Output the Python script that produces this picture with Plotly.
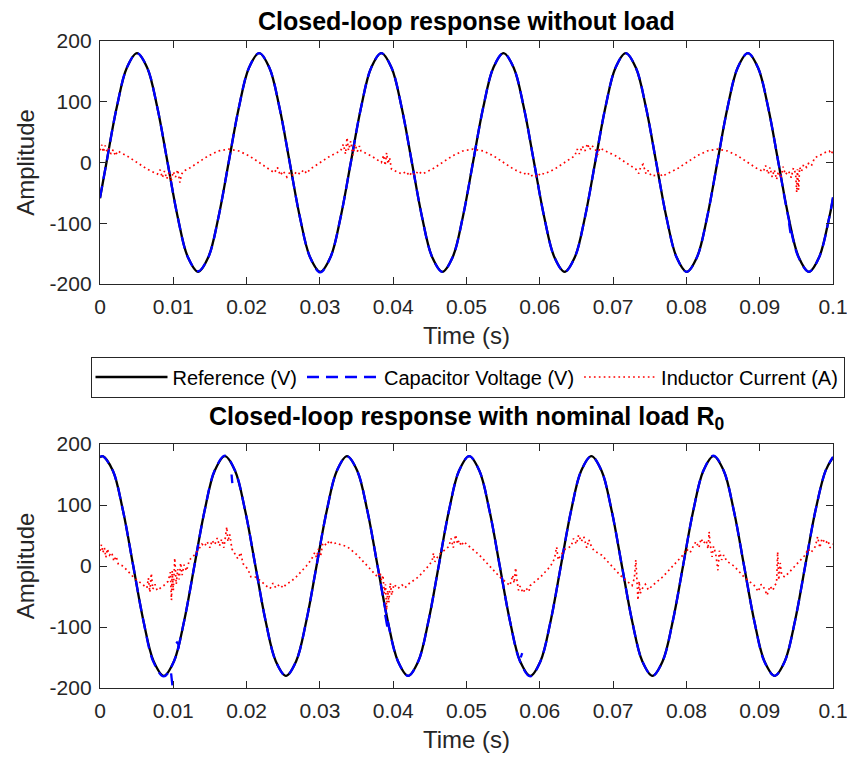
import plotly.graph_objects as go

FONT = "Liberation Sans, Arial, sans-serif"
AX = "#262626"

# ---------------- data (time in ms) ----------------
time_ticks = [0, 0.01, 0.02, 0.03, 0.04, 0.05, 0.06, 0.07, 0.08, 0.09, 0.1]
time_tick_labels = ["0", "0.01", "0.02", "0.03", "0.04", "0.05", "0.06", "0.07", "0.08", "0.09", "0.1"]
amp_ticks = [-200, -100, 0, 100, 200]
amp_tick_labels = ["-200", "-100", "0", "100", "200"]

# Top panel (without load)
top_ref_t = [0, 0.883, 2.272, 3.661,
             5.050, 6.439, 7.828, 9.217, 10.606, 11.994, 13.383, 14.772, 16.161, 17.550, 18.939, 20.328,
             21.717, 23.106, 24.494, 25.883, 27.272, 28.661, 30.050, 31.439, 32.828, 34.217, 35.606, 36.994,
             38.383, 39.772, 41.161, 42.550, 43.939, 45.328, 46.717, 48.106, 49.494, 50.883, 52.272, 53.661,
             55.050, 56.439, 57.828, 59.217, 60.606, 61.994, 63.383, 64.772, 66.161, 67.550, 68.939, 70.328,
             71.717, 73.106, 74.494, 75.883, 77.272, 78.661, 80.050, 81.439, 82.828, 84.217, 85.606, 86.994,
             88.383, 89.772, 91.161, 92.550, 93.939, 95.328, 96.717, 98.106, 99.494, 100]
top_ref_v = [-59, 0, 90, 156,
             180, 156, 90, 0, -90, -156, -180, -156, -90, 0, 90, 156,
             180, 156, 90, 0, -90, -156, -180, -156, -90, 0, 90, 156,
             180, 156, 90, 0, -90, -156, -180, -156, -90, 0, 90, 156,
             180, 156, 90, 0, -90, -156, -180, -156, -90, 0, 90, 156,
             180, 156, 90, 0, -90, -156, -180, -156, -90, 0, 90, 156,
             180, 156, 90, 0, -90, -156, -180, -156, -90, -59]
top_cap_v = [-58, 0, 90, 156,
             180, 156, 90, 0, -90, -156, -179, -156, -90, 0, 90, 156,
             180, 156, 90, 0, -90, -156, -181, -156, -90, 0, 90, 156,
             180, 156, 90, 0, -90, -156, -180, -156, -90, 0, 90, 156,
             180, 156, 90, 0, -90, -156, -180, -156, -90, 0, 90, 156,
             180, 156, 90, 0, -90, -156, -180, -156, -90, 0, 90, 156,
             180, 156, 90, 0, -92, -157, -180, -156, -90, -57]
top_cap_glitch_t = [94.0, 94.2]
top_cap_glitch_v = [-100, -116]
top_cur = [(0, 20), (0.25, 29), (0.45, 17), (0.7, 28), (0.95, 18), (1.2, 23), (1.5, 14), (1.8, 21), (2.1, 11),
           (2.4, 19), (3.661, 11), (5.050, 0), (6.439, -11), (7.828, -19), (8.2, -12), (8.5, -25), (8.8, -14),
           (9.1, -27), (9.4, -17), (9.7, -30), (10.0, -15), (10.3, -24), (10.6, -12), (10.9, -33), (11.1, -20),
           (11.4, -14), (11.994, -11), (13.383, 0), (14.772, 11), (16.161, 19), (17.550, 22), (18.939, 19),
           (20.328, 11), (21.717, 0), (23.106, -11), (23.8, -17), (24.2, -8), (24.6, -21), (25.0, -14),
           (25.5, -24), (25.9, -16), (26.4, -22), (26.8, -15), (27.272, -19), (27.8, -12), (28.2, -18),
           (28.661, -11), (30.050, 0), (31.439, 11), (32.828, 19), (33.2, 30), (33.5, 14), (33.7, 41),
           (33.9, 20), (34.2, 35), (34.5, 12), (34.8, 30), (35.1, 18), (35.4, 27), (35.606, 19), (36.994, 11),
           (38.383, 0), (38.7, 12), (38.9, -5), (39.1, 16), (39.3, -2), (39.5, 8), (39.772, -11), (41.161, -19),
           (41.8, -15), (42.2, -22), (42.55, -16), (43.0, -21), (43.4, -14), (43.939, -19), (45.328, -11),
           (46.717, 0), (48.106, 11), (49.494, 19), (50.883, 22), (52.272, 19), (53.661, 11), (55.050, 0),
           (56.439, -11), (57.828, -19), (58.3, -16), (58.7, -23), (59.217, -20), (59.7, -24), (60.1, -17),
           (60.606, -19), (61.994, -11), (63.383, 0), (64.772, 11), (65.1, 22), (65.4, 14), (65.8, 27),
           (66.161, 19), (66.5, 31), (66.8, 21), (67.1, 28), (67.55, 22), (67.9, 13), (68.2, 24), (68.939, 19),
           (70.328, 11), (71.717, 0), (73.106, -11), (73.5, -18), (73.8, -6), (74.1, -3), (74.494, -19),
           (74.8, -13), (75.2, -22), (75.883, -21), (76.3, -16), (76.7, -23), (77.272, -19), (78.661, -11),
           (80.050, 0), (81.439, 11), (82.828, 19), (84.217, 22), (85.606, 19), (86.994, 11), (88.383, 0),
           (89.772, -11), (90.5, -15), (90.8, -5), (91.161, -19), (91.4, -8), (91.7, -24), (92.0, -12),
           (92.3, -28), (92.55, -15), (92.9, -25), (93.2, -7), (93.5, -20), (93.939, -14), (94.3, -25),
           (94.6, -9), (94.9, -18), (95.05, -49), (95.15, -11), (95.3, -45), (95.45, -8), (95.7, -15),
           (96.0, -3), (96.4, -8), (96.717, 0), (97.1, -4), (97.5, 8), (98.106, 11), (98.8, 16), (99.494, 19),
           (99.8, 14), (100, 21)]

# Bottom panel (nominal load R0)
bot_ref_t = [0, 0.370, 1.759, 3.148, 4.537, 5.926, 7.315, 8.704, 10.093, 11.481, 12.870, 14.259, 15.648,
             17.037, 18.426, 19.815, 21.204, 22.593, 23.981, 25.370, 26.759, 28.148, 29.537, 30.926, 32.315,
             33.704, 35.093, 36.481, 37.870, 39.259, 40.648, 42.037, 43.426, 44.815, 46.204, 47.593, 48.981,
             50.370, 51.759, 53.148, 54.537, 55.926, 57.315, 58.704, 60.093, 61.481, 62.870, 64.259, 65.648,
             67.037, 68.426, 69.815, 71.204, 72.593, 73.981, 75.370, 76.759, 78.148, 79.537, 80.926, 82.315,
             83.704, 85.093, 86.481, 87.870, 89.259, 90.648, 92.037, 93.426, 94.815, 96.204, 97.593, 98.981,
             100]
bot_ref_v = [178,
             180, 156, 90, 0, -90, -156, -180, -156, -90, 0, 90, 156,
             180, 156, 90, 0, -90, -156, -180, -156, -90, 0, 90, 156,
             180, 156, 90, 0, -90, -156, -180, -156, -90, 0, 90, 156,
             180, 156, 90, 0, -90, -156, -180, -156, -90, 0, 90, 156,
             180, 156, 90, 0, -90, -156, -180, -156, -90, 0, 90, 156,
             180, 156, 90, 0, -90, -156, -180, -156, -90, 0, 90, 156,
             178]
bot_cap_v = [179,
             180, 156, 90, 0, -90, -158, -181, -156, -90, 0, 90, 157,
             181, 156, 90, 0, -90, -156, -180, -156, -90, 0, 90, 156,
             180, 156, 90, 0, -91, -156, -180, -156, -90, 0, 90, 156,
             180, 156, 90, 0, -90, -157, -181, -156, -90, 0, 90, 156,
             180, 156, 90, 0, -90, -156, -180, -156, -90, 0, 90, 156,
             181, 156, 90, 0, -90, -157, -180, -156, -90, 0, 90, 156,
             179]
bot_cap_glitch_t = [9.7, 9.9, None, 10.4, 10.75, 10.6, None, 17.95, 18.05, None, 38.9, 39.2, None, 57.4, 57.6]
bot_cap_glitch_v = [-176, -198, None, -124, -130, -138, None, 150, 136, None, -80, -100, None, -150, -143]
bot_cur = [(0, 25), (0.2, 35), (0.4, 22), (0.6, 30), (0.8, 14), (1.0, 28), (1.3, 18), (1.6, 22), (1.9, 8),
           (2.2, 16), (2.5, 3), (3.148, 0), (4.537, -18), (5.926, -32), (6.4, -36), (6.6, -20), (6.8, -43),
           (7.0, -12), (7.2, -38), (7.5, -30), (7.8, -40), (8.704, -32), (9.3, -25), (9.6, -10), (9.75, -56),
           (9.85, -8), (10.0, -40), (10.2, 13), (10.4, -30), (10.6, -5), (10.8, -22), (11.0, 5), (11.2, -15),
           (11.481, 2), (11.8, -8), (12.2, 10), (12.870, 18), (13.5, 28), (13.9, 36), (14.259, 32), (14.6, 40),
           (15.0, 30), (15.3, 42), (15.648, 35), (16.0, 46), (16.3, 33), (16.6, 44), (16.9, 30), (17.15, 50),
           (17.3, 64), (17.45, 40), (17.7, 52), (18.0, 28), (18.426, 20), (18.8, 12), (19.2, 22), (19.5, 4),
           (19.815, 0), (20.2, -6), (20.6, -18), (21.204, -18), (22.0, -25), (22.593, -32), (23.2, -37),
           (23.6, -28), (23.981, -36), (24.5, -30), (25.0, -36), (25.370, -30), (26.0, -26), (26.759, -18),
           (28.148, 0), (28.8, 10), (29.3, 22), (29.537, 14), (29.8, 28), (30.1, 16), (30.4, 38), (30.926, 34),
           (31.3, 42), (31.7, 36), (32.315, 38), (32.8, 35), (33.704, 32), (35.093, 18), (36.481, 0),
           (37.870, -18), (38.2, -10), (38.4, -24), (38.6, -15), (38.8, -45), (38.95, -30), (39.1, -72),
           (39.25, -40), (39.4, -60), (39.6, -28), (39.8, -48), (40.1, -30), (40.648, -37), (41.2, -31),
           (41.6, -36), (42.037, -30), (43.426, -18), (44.815, 0), (45.3, 8), (45.5, 21), (45.7, 7),
           (46.204, 18), (47.593, 32), (47.9, 45), (48.2, 30), (48.5, 51), (48.8, 36), (48.981, 42), (49.3, 33),
           (49.6, 40), (50.370, 32), (51.759, 18), (53.148, 0), (54.537, -18), (55.926, -32), (56.3, -15),
           (56.5, -28), (56.7, -3), (56.9, -25), (57.1, -40), (57.315, -33), (57.7, -44), (58.1, -36),
           (58.5, -42), (58.704, -32), (60.093, -18), (61.481, 0), (62.0, 12), (62.3, 31), (62.5, 10),
           (62.870, 18), (63.5, 28), (64.259, 32), (64.6, 45), (65.0, 36), (65.3, 51), (65.648, 40), (66.0, 48),
           (66.4, 30), (66.7, 43), (67.037, 32), (67.4, 25), (68.426, 18), (69.815, 0), (71.204, -18),
           (72.593, -32), (72.9, -20), (73.1, 10), (73.25, -30), (73.4, -56), (73.55, -25), (73.7, -45),
           (73.981, -37), (74.4, -30), (74.8, -39), (75.370, -32), (76.759, -18), (78.148, 0), (79.537, 18),
           (80.0, 28), (80.5, 22), (80.926, 32), (81.3, 40), (81.7, 30), (82.0, 45), (82.315, 37), (82.7, 42),
           (82.95, 28), (83.1, 56), (83.25, 35), (83.5, 15), (83.704, 32), (84.0, 20), (84.3, -7), (84.5, 25),
           (84.8, 10), (85.093, 18), (85.5, 8), (86.481, 0), (87.870, -18), (88.5, -25), (89.259, -32),
           (89.8, -42), (90.2, -30), (90.648, -37), (91.0, -48), (91.4, -33), (91.8, -40), (92.037, -32),
           (92.3, -28), (92.45, 23), (92.6, -23), (92.8, 5), (93.0, -15), (93.426, -18), (94.815, 0),
           (96.204, 18), (96.6, 28), (97.0, 22), (97.593, 32), (97.9, 48), (98.2, 30), (98.5, 45), (98.981, 37),
           (99.3, 42), (99.6, 30), (100, 36)]

series_names = ["Reference (V)", "Capacitor Voltage (V)", "Inductor Current (A)"]
titles = ["Closed-loop response without load", "Closed-loop response with nominal load R<sub>0</sub>"]


def ms_to_s(lst):
    return [None if v is None else v / 1000.0 for v in lst]


def with_glitch(t, v, gt, gv):
    return ms_to_s(t) + [None] + ms_to_s(gt), list(v) + [None] + list(gv)


panels = [
    dict(ref_t=top_ref_t, ref_v=top_ref_v, cap_v=top_cap_v, gt=top_cap_glitch_t, gv=top_cap_glitch_v,
         cur=top_cur, xa="x", ya="y"),
    dict(ref_t=bot_ref_t, ref_v=bot_ref_v, cap_v=bot_cap_v, gt=bot_cap_glitch_t, gv=bot_cap_glitch_v,
         cur=bot_cur, xa="x2", ya="y2"),
]

fig = go.Figure()
for i, p in enumerate(panels):
    show = i == 0
    fig.add_trace(go.Scatter(x=ms_to_s(p["ref_t"]), y=p["ref_v"], mode="lines", name=series_names[0],
                             line=dict(color="black", width=2.3, shape="spline"),
                             xaxis=p["xa"], yaxis=p["ya"], showlegend=show, legendgroup="ref"))
    cx, cy = with_glitch(p["ref_t"], p["cap_v"], p["gt"], p["gv"])
    fig.add_trace(go.Scatter(x=cx, y=cy, mode="lines", name=series_names[1],
                             line=dict(color="#0000ff", width=2.3, dash="12px,7px", shape="spline"),
                             connectgaps=False,
                             xaxis=p["xa"], yaxis=p["ya"], showlegend=show, legendgroup="cap"))
    ct = [a for a, b in p["cur"]]
    cv = [b for a, b in p["cur"]]
    fig.add_trace(go.Scatter(x=ms_to_s(ct), y=cv, mode="lines", name=series_names[2],
                             line=dict(color="#ff0000", width=1.7, dash="1.7px,3.2px"),
                             xaxis=p["xa"], yaxis=p["ya"], showlegend=show, legendgroup="cur"))

# page margin is removed (see post_script), so figure pixels equal window pixels
W, H = 847, 757
X0, X1 = 100, 833
TOP = (41, 284)
BOT = (444, 688)


def py(px):
    return 1 - px / H


xdom = [X0 / W, X1 / W]
xcommon = dict(range=[0, 0.1], tickvals=time_ticks, ticktext=time_tick_labels, ticks="inside", ticklen=7,
               tickwidth=1.3, tickcolor=AX, showline=True, linecolor=AX, linewidth=1.3, mirror="allticks",
               showgrid=False, zeroline=False, automargin=False, ticklabelstandoff=4,
               ticklabeloverflow="allow",
               tickfont=dict(family=FONT, size=21, color=AX),
               title=dict(text="Time (s)", font=dict(family=FONT, size=24, color=AX), standoff=9))
ycommon = dict(range=[-200, 200], tickvals=amp_ticks, ticktext=amp_tick_labels, ticks="inside", ticklen=7,
               tickwidth=1.3, tickcolor=AX, showline=True, linecolor=AX, linewidth=1.3, mirror="allticks",
               showgrid=False, zeroline=False, automargin=False, ticklabelstandoff=3,
               ticklabeloverflow="allow",
               tickfont=dict(family=FONT, size=21, color=AX),
               title=dict(text="Amplitude", font=dict(family=FONT, size=24, color=AX), standoff=8))

fig.update_layout(
    template="none",
    width=W, height=H, margin=dict(l=0, r=0, t=0, b=0, pad=0, autoexpand=False),
    paper_bgcolor="white", plot_bgcolor="white",
    font=dict(family=FONT, color=AX),
    xaxis=dict(domain=xdom, anchor="y", **xcommon),
    yaxis=dict(domain=[py(TOP[1]), py(TOP[0])], anchor="x", **ycommon),
    xaxis2=dict(domain=xdom, anchor="y2", **xcommon),
    yaxis2=dict(domain=[py(BOT[1]), py(BOT[0])], anchor="x2", **ycommon),
    showlegend=True,
    legend=dict(orientation="h", x=467.5 / W, xanchor="center", y=py(377), yanchor="middle",
                bordercolor=AX, borderwidth=1, bgcolor="white",
                font=dict(family=FONT, size=20, color="black"), itemwidth=72, tracegroupgap=0),
    annotations=[
        dict(text="<b>" + titles[0] + "</b>", x=(X0 + X1) / 2 / W, y=py(5), xref="paper", yref="paper",
             showarrow=False, font=dict(family=FONT, size=25, color="black"), yanchor="top"),
        dict(text="<b>" + titles[1] + "</b>", x=(X0 + X1) / 2 / W, y=py(418), xref="paper", yref="paper",
             showarrow=False, font=dict(family=FONT, size=25, color="black"), yanchor="middle"),
    ],
)

fig.write_html(
    "out.html",
    config={"displayModeBar": False},
    post_script="document.documentElement.style.overflow='hidden';"
                "document.body.style.margin='0';document.body.style.overflow='hidden';",
)
